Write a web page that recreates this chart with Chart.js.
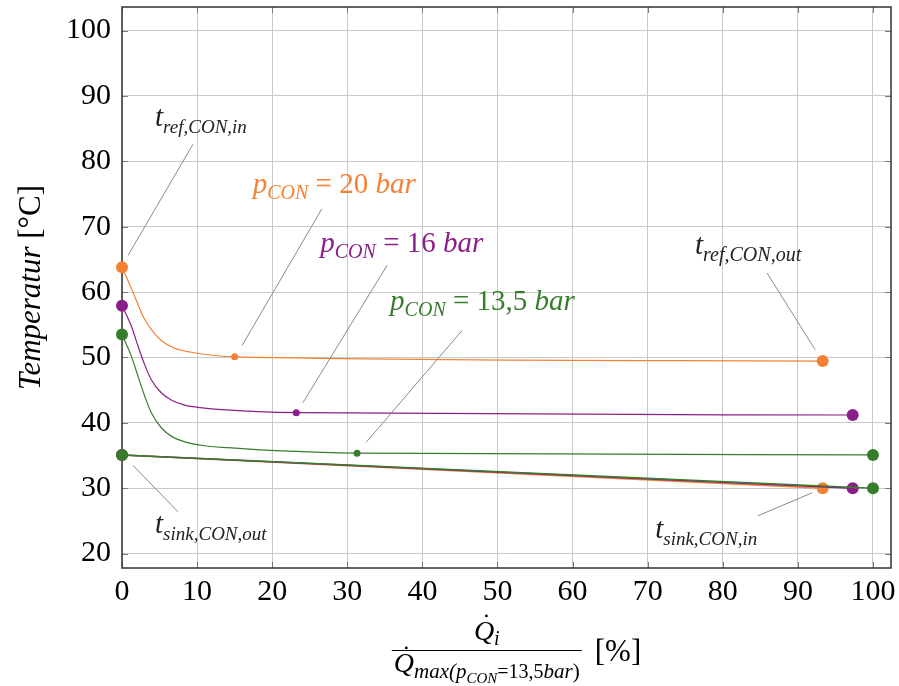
<!DOCTYPE html>
<html>
<head>
<meta charset="utf-8">
<script src="https://cdn.jsdelivr.net/npm/chart.js@4.4.0/dist/chart.umd.min.js"></script>
<style>
body{margin:0;background:#fff;}
#wrap{width:899px;height:686px;position:relative;}
</style>
</head>
<body>
<div id="wrap"><canvas id="tempChart"></canvas></div>
<script>
// tick labels
const xTicks = [0, 10, 20, 30, 40, 50, 60, 70, 80, 90, 100];
const yTicks = [20, 30, 40, 50, 60, 70, 80, 90, 100];

// t_ref curves, knee marker is the second-last point
const x20 = [0, 1.24, 2.13, 3.02, 3.9, 5.23, 7.0, 9.2, 12.3, 15.0, 93.3];
const y20 = [63.8, 60.6, 58.1, 55.8, 54.3, 52.6, 51.4, 50.8, 50.3, 50.1, 49.45];
const x16 = [0, 1.24, 2.13, 3.02, 3.9, 5.23, 6.56, 8.35, 11.0, 12.8, 23.2, 97.3];
const y16 = [57.9, 54.8, 51.75, 48.9, 46.6, 44.6, 43.5, 42.7, 42.25, 42.05, 41.55, 41.2];
const x135 = [0, 1.24, 2.13, 3.02, 3.9, 5.23, 6.56, 8.35, 11.0, 14.1, 21.3, 31.3, 100];
const y135 = [53.5, 50.2, 47.15, 44.1, 41.55, 39.25, 37.97, 37.1, 36.5, 36.2, 35.7, 35.36, 35.1];

// t_sink lines
const xSink20 = [0, 93.3];
const ySink20 = [35.1, 30.0];
const xSink16 = [0, 97.3];
const ySink16 = [35.1, 30.0];
const xSink135 = [0, 100];
const ySink135 = [35.1, 30.0];

const ORANGE = 'rgb(245,130,52)';
const PURPLE = 'rgb(138,30,138)';
const GREEN = 'rgb(56,125,46)';
const FONT = '"Liberation Serif", "Times New Roman", serif';

function pts(xs, ys) {
    return xs.map((x, i) => ({x: x, y: ys[i]}));
}

function curveRadius(ctx) {
    let n = ctx.dataset.data.length;
    if (ctx.dataIndex === 0 || ctx.dataIndex === n - 1) return 6;
    if (ctx.dataIndex === n - 2) return 3.5;
    return 0;
}

function curve(data, color) {
    return {
        data: data,
        borderColor: color,
        backgroundColor: color,
        borderWidth: 1.2,
        cubicInterpolationMode: 'monotone',
        pointRadius: curveRadius,
        pointBorderWidth: 0,
        pointHoverRadius: 0,
        clip: false
    };
}

function sink(data, color) {
    return {
        data: data,
        borderColor: color,
        backgroundColor: color,
        borderWidth: 1.5,
        pointRadius: 6,
        pointBorderWidth: 0,
        pointHoverRadius: 0,
        clip: false
    };
}

// annotations: leader line and label anchor in data units
const notes = [
    {line: [0.8, 65.6, 9.45, 82.6], at: [4.4, 85.4], color: '#222',
     parts: [['t', 29, 1, 0], ['ref,CON,in', 19, 1, 7]]},
    {line: [16.0, 51.85, 26.6, 72.7], at: [17.4, 75.2], color: ORANGE,
     parts: [['p', 29, 1, 0], ['CON', 20, 1, 6], [' = 20 ', 29, 0, 0], ['bar', 29, 1, 0]]},
    {line: [24.1, 43.1, 35.3, 64.1], at: [26.4, 66.2], color: PURPLE,
     parts: [['p', 29, 1, 0], ['CON', 20, 1, 6], [' = 16 ', 29, 0, 0], ['bar', 29, 1, 0]]},
    {line: [32.5, 37.0, 45.3, 54.15], at: [35.7, 57.2], color: GREEN,
     parts: [['p', 29, 1, 0], ['CON', 20, 1, 6], [' = 13,5 ', 29, 0, 0], ['bar', 29, 1, 0]]},
    {line: [85.9, 62.9, 92.3, 51.2], at: [76.3, 65.8], color: '#222',
     parts: [['t', 29, 1, 0], ['ref,CON,out', 20, 1, 7]]},
    {line: [1.46, 33.5, 7.46, 26.4], at: [4.4, 23.2], color: '#222',
     parts: [['t', 29, 1, 0], ['sink,CON,out', 19, 1, 7]]},
    {line: [84.7, 25.8, 91.9, 29.3], at: [71.0, 22.45], color: '#222',
     parts: [['t', 29, 1, 0], ['sink,CON,in', 19, 1, 7]]}
];

function setFont(ctx, size, it) {
    ctx.font = (it ? 'italic ' : '') + size + 'px ' + FONT;
}

function richWidth(ctx, parts) {
    let w = 0;
    parts.forEach(p => { setFont(ctx, p[1], p[2]); w += ctx.measureText(p[0]).width; });
    return w;
}

function drawRich(ctx, x, y, parts) {
    let cx = x;
    parts.forEach(p => {
        setFont(ctx, p[1], p[2]);
        ctx.fillText(p[0], cx, y + p[3]);
        cx += ctx.measureText(p[0]).width;
    });
}

function qdot(ctx, x, y, size) {
    setFont(ctx, size, 1);
    let w = ctx.measureText('Q').width;
    ctx.beginPath();
    ctx.arc(x + w * 0.62, y - size * 0.86, 1.4, 0, Math.PI * 2);
    ctx.fill();
}

const decor = {
    id: 'decor',
    beforeDatasetsDraw(chart) {
        const ctx = chart.ctx;
        const a = chart.chartArea;
        const sx = chart.scales.x, sy = chart.scales.y;
        ctx.save();
        ctx.strokeStyle = '#7a7a7a';
        ctx.lineWidth = 1;
        ctx.beginPath();
        xTicks.forEach(v => {
            let px = Math.round(sx.getPixelForValue(v)) + 0.5;
            ctx.moveTo(px, a.top); ctx.lineTo(px, a.top + 6);
            ctx.moveTo(px, a.bottom); ctx.lineTo(px, a.bottom - 6);
        });
        yTicks.forEach(v => {
            let py = Math.round(sy.getPixelForValue(v)) + 0.5;
            ctx.moveTo(a.left, py); ctx.lineTo(a.left + 6, py);
            ctx.moveTo(a.right, py); ctx.lineTo(a.right - 6, py);
        });
        ctx.stroke();
        ctx.strokeStyle = '#333';
        ctx.lineWidth = 1.5;
        ctx.strokeRect(a.left, a.top, a.right - a.left, a.bottom - a.top);
        ctx.restore();
    },
    afterDraw(chart) {
        const ctx = chart.ctx;
        const a = chart.chartArea;
        const sx = chart.scales.x, sy = chart.scales.y;
        ctx.save();
        ctx.textBaseline = 'alphabetic';
        notes.forEach(n => {
            ctx.strokeStyle = '#8a8a8a';
            ctx.lineWidth = 1;
            ctx.beginPath();
            ctx.moveTo(sx.getPixelForValue(n.line[0]), sy.getPixelForValue(n.line[1]));
            ctx.lineTo(sx.getPixelForValue(n.line[2]), sy.getPixelForValue(n.line[3]));
            ctx.stroke();
            ctx.fillStyle = n.color;
            drawRich(ctx, sx.getPixelForValue(n.at[0]), sy.getPixelForValue(n.at[1]), n.parts);
        });

        // y axis title
        ctx.fillStyle = '#000';
        ctx.save();
        const yParts = [['Temperatur', 31, 1, 0], [' [\u00b0C]', 31, 0, 0]];
        let yw = richWidth(ctx, yParts);
        ctx.translate(40, (a.top + a.bottom) / 2);
        ctx.rotate(-Math.PI / 2);
        drawRich(ctx, -yw / 2, 0, yParts);
        ctx.restore();

        // x axis title: fraction + [%]
        const num = [['Q', 28, 1, 0], ['i', 20, 1, 5]];
        const den = [['Q', 28, 1, 0], ['max(', 21, 1, 6], ['p', 21, 1, 6], ['CON', 15, 1, 11],
                     ['=13,5', 20, 0, 6], ['bar', 21, 1, 6], [')', 21, 0, 6]];
        const unit = [['[%]', 31, 0, 0]];
        let nw = richWidth(ctx, num), dw = richWidth(ctx, den), uw = richWidth(ctx, unit);
        let fw = Math.max(nw, dw) + 4;
        let total = fw + 13 + uw;
        let cx = (a.left + a.right) / 2 + 10;
        let fx = cx - total / 2;
        let barY = a.bottom + 82;
        ctx.strokeStyle = '#000';
        ctx.lineWidth = 1;
        ctx.beginPath();
        ctx.moveTo(fx, barY + 0.5); ctx.lineTo(fx + fw, barY + 0.5);
        ctx.stroke();
        let nx = fx + (fw - nw) / 2, ny = barY - 10;
        drawRich(ctx, nx, ny, num);
        qdot(ctx, nx, ny, 28);
        let dx = fx + (fw - dw) / 2, dy = barY + 22;
        drawRich(ctx, dx, dy, den);
        qdot(ctx, dx, dy, 28);
        drawRich(ctx, fx + fw + 13, barY + 11, unit);
        ctx.restore();
    }
};

new Chart(document.getElementById('tempChart'), {
    type: 'line',
    data: {
        datasets: [
            sink(pts(xSink135, ySink135), GREEN),
            sink(pts(xSink16, ySink16), PURPLE),
            sink(pts(xSink20, ySink20), ORANGE),
            curve(pts(x20, y20), ORANGE),
            curve(pts(x16, y16), PURPLE),
            curve(pts(x135, y135), GREEN)
        ]
    },
    options: {
        responsive: true,
        maintainAspectRatio: false,
        animation: false,
        layout: {padding: {top: 7, right: 8, left: 0, bottom: 0}},
        plugins: {legend: {display: false}, tooltip: {enabled: false}},
        events: [],
        scales: {
            x: {
                type: 'linear',
                min: 0,
                max: 102.4,
                afterBuildTicks: s => { s.ticks = xTicks.map(v => ({value: v})); },
                afterFit: s => { s.height = 118; s.paddingLeft = 0; s.paddingRight = 0; },
                grid: {color: '#c9c9c9', lineWidth: 1, drawTicks: false},
                border: {display: false},
                ticks: {font: {family: FONT, size: 30}, color: '#000', padding: 6, maxRotation: 0}
            },
            y: {
                type: 'linear',
                min: 17.8,
                max: 103.6,
                afterBuildTicks: s => { s.ticks = yTicks.map(v => ({value: v})); },
                afterFit: s => { s.width = 122; s.paddingTop = 0; s.paddingBottom = 0; },
                grid: {color: '#c9c9c9', lineWidth: 1, drawTicks: false},
                border: {display: false},
                ticks: {font: {family: FONT, size: 30}, color: '#000', padding: 11}
            }
        }
    },
    plugins: [decor]
});
</script>
</body>
</html>
